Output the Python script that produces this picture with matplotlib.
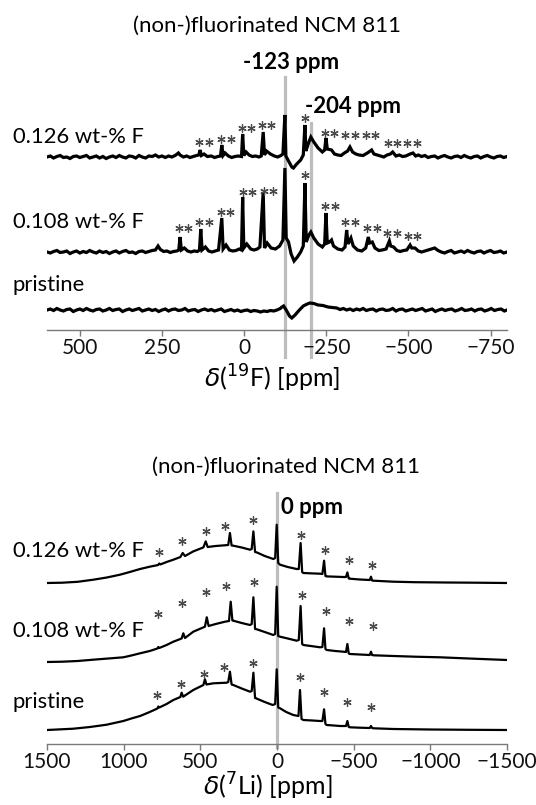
import numpy as np
import matplotlib
matplotlib.use("Agg")
import matplotlib.pyplot as plt
from matplotlib.transforms import ScaledTranslation

plt.rcParams['font.family'] = ['Lato', 'DejaVu Sans']
plt.rcParams['mathtext.fontset'] = 'dejavusans'

# ---------------- data: 19F spectra (ppm, height above own baseline) -------------
f_126 = [(600, 0), (590, 1), (580, -1), (570, 0.5), (560, 1.5), (550, -0.5), (540, 0),
         (530, -1.5), (520, 0.5), (510, 1), (500, -0.5), (490, 0.5), (480, 1.5), (470, -1),
         (460, 0), (450, 1), (440, -1), (430, 0.5), (420, -1.5), (410, 0), (400, 1),
         (390, -0.5), (380, 1.5), (370, 0), (360, -1), (350, 1), (340, 0.5), (330, -1),
         (320, 1.5), (310, 0), (300, -1), (290, 1), (280, 0.5), (270, 2), (260, 0), (250, 1),
         (240, -0.5), (230, 1), (220, 0), (210, 1.5), (200, 4), (195, 2), (185, 0), (175, 1),
         (165, -0.5), (155, 0.5), (145, 1.5), (138, 2), (134, 7), (130, 1.5), (122, 3),
         (112, 0.5), (100, 1), (90, -0.5), (80, 0.5), (72, 1), (68, 12), (64, 1.5), (58, 4),
         (48, 1), (38, -0.5), (28, 0.5), (18, 1), (8, 0.5), (4.5, 23), (1, 1.5), (-6, 5),
         (-15, 2), (-25, 0.5), (-35, 1), (-45, 0), (-52, 1), (-58, 25), (-62, 2), (-68, 6),
         (-80, 3), (-92, 1), (-102, 0), (-112, 1.5), (-118, 3), (-124, 42), (-127, 1),
         (-135, -4), (-145, -10), (-150, -11), (-160, -7), (-172, -3), (-180, 2), (-185, 32),
         (-188, 6), (-196, 14), (-203, 20), (-212, 15), (-225, 9), (-238, 5), (-245, 7),
         (-249, 19), (-253, 8), (-266, 7), (-275, 3), (-285, 2), (-295, 1.5), (-305, 4),
         (-315, 6), (-322, 10), (-330, 5), (-340, 3), (-350, 2), (-362, 1.5), (-375, 4),
         (-388, 7), (-395, 3), (-405, 2), (-415, 1), (-425, 0), (-435, 2), (-445, 3),
         (-452, 5), (-462, 1), (-472, 2), (-482, 0.5), (-492, 1), (-505, 3), (-514, 4),
         (-522, 1), (-530, 2), (-540, 0.5), (-550, 1.5), (-560, -0.5), (-570, 0.5),
         (-580, 1), (-590, -1), (-600, 0.5), (-610, 1.5), (-620, 0), (-630, -1), (-640, 0.5),
         (-650, 1), (-660, -0.5), (-670, 1.5), (-680, 0), (-690, -1), (-700, 0.5), (-710, 1),
         (-720, -1), (-730, 0.5), (-740, 1.5), (-750, 0), (-760, -1), (-770, 0.5), (-780, 1),
         (-790, -0.5), (-800, 0.5)]

f_108 = [(600, 0), (590, -1), (580, 0.5), (570, 1.5), (560, -0.5), (550, 0), (540, 1),
         (530, -1.5), (520, 0), (510, 1), (500, -1), (490, 0.5), (480, -0.5), (470, 1.5),
         (460, 0), (450, -1), (440, 1), (430, -0.5), (420, 0.5), (410, -1.5), (400, 0),
         (390, 1), (380, -1), (370, 0.5), (360, 1.5), (350, -0.5), (340, 0), (330, -1.5),
         (320, 0.5), (310, 1), (300, -0.5), (290, 0.5), (280, 1.5), (270, 2), (262, 6),
         (255, 2.5), (245, 0.5), (235, 1), (225, -0.5), (215, 0.5), (205, 1), (199, 2),
         (195, 15), (191, 2), (182, 4), (172, 1), (162, 0), (152, 1), (142, 0.5), (136, 2),
         (132, 23), (128, 2), (118, 5), (108, 1), (98, 0), (88, 1), (78, 2), (68, 34), (64, 3),
         (55, 7), (45, 2), (35, 1), (25, 1.5), (15, 3), (8, 2), (4.5, 55), (1, 4), (-8, 8),
         (-20, 3), (-30, 2), (-40, 3), (-48, 5), (-58, 60), (-62, 4), (-70, 9), (-82, 4),
         (-95, 3), (-108, 6), (-118, 12), (-124, 84), (-128, 14), (-135, 10), (-143, -2),
         (-152, -9), (-162, -5), (-172, 0), (-180, 6), (-185, 69), (-189, 10), (-197, 17),
         (-203, 20), (-212, 14), (-225, 8), (-238, 5), (-245, 8), (-249, 39), (-253, 9),
         (-260, 10), (-266, 12), (-272, 6), (-285, 3), (-298, 2), (-307, 5), (-312, 22),
         (-316, 8), (-325, 14), (-332, 6), (-345, 2), (-358, 1), (-370, 4), (-378, 15),
         (-382, 9), (-390, 10), (-398, 4), (-410, 1.5), (-420, 2), (-432, 3), (-442, 11),
         (-446, 6), (-455, 5), (-465, 1.5), (-475, 0.5), (-485, 1.5), (-495, 2), (-505, 7),
         (-510, 4), (-520, 4), (-530, 1), (-540, 0), (-550, 1), (-560, 2), (-570, 3),
         (-580, 4), (-590, 1.5), (-600, 0), (-610, -1), (-620, 0.5), (-630, 1.5), (-640, -1),
         (-650, 0), (-660, 1), (-670, -0.5), (-680, 1.5), (-690, 0), (-700, -1), (-710, 0.5),
         (-720, 1), (-730, -1), (-740, 0.5), (-750, 1.5), (-760, -0.5), (-770, 0), (-780, 1),
         (-790, -1), (-800, 0)]

f_pristine = [(600, 0), (590, 1), (580, -0.5), (570, 1.5), (560, 0), (550, -1), (540, 0.5),
              (530, 1), (520, -1.5), (510, 0), (500, 1), (490, -0.5), (480, 1.5), (470, 0),
              (460, -1), (450, 0.5), (440, 1), (430, -1), (420, 0), (410, 1.5), (400, -0.5),
              (390, 0.5), (380, 1), (370, -1.5), (360, 0), (350, 1), (340, -0.5), (330, 0.5),
              (320, 1.5), (310, -1), (300, 0), (290, 1), (280, -0.5), (270, 0.5), (260, -1.5),
              (250, 0), (240, 1), (230, -1), (220, 0.5), (210, 1), (200, -0.5), (190, 0),
              (180, 1.5), (170, -1), (160, 0), (150, 0.5), (140, -1.5), (130, 0), (120, 1),
              (110, -0.5), (100, 0.5), (90, -1), (80, 0), (70, 1), (60, -1.5), (50, -0.5),
              (40, 0.5), (30, -1), (20, 0), (10, -1.5), (0, -0.5), (-10, 0), (-20, -1.5),
              (-30, -0.5), (-40, -1), (-50, -2), (-60, -1), (-70, -1.5), (-80, -0.5), (-90, -1),
              (-100, 0), (-110, 1.5), (-115, 3), (-120, 4), (-128, 0), (-138, -6), (-145, -8),
              (-155, -5), (-168, 0), (-180, 4), (-192, 6), (-200, 7), (-212, 6.5), (-225, 5),
              (-240, 4.5), (-255, 3), (-270, 2.5), (-282, 2), (-292, 0.5), (-302, 1.5),
              (-312, 0), (-322, 1), (-332, -0.5), (-342, 1), (-352, 0), (-362, 1.5),
              (-372, -0.5), (-382, 0.5), (-392, 1), (-402, -1), (-412, 0.5), (-422, 1),
              (-432, -0.5), (-442, 0), (-452, 1.5), (-462, -1), (-472, 0.5), (-482, 1),
              (-492, -1), (-502, 0), (-512, 1), (-522, -0.5), (-532, 0.5), (-542, 1.5),
              (-552, -1), (-562, 0), (-572, 1), (-582, -1.5), (-592, 0), (-602, 1),
              (-612, -0.5), (-622, 0.5), (-632, 1), (-642, -1), (-652, 0), (-662, 1.5),
              (-672, -0.5), (-682, 0), (-692, 1), (-702, -1), (-712, 0.5), (-722, 1),
              (-732, -1), (-742, 0), (-752, 1.5), (-762, -0.5), (-772, 0.5), (-782, 1),
              (-792, -1), (-800, 0)]

# spinning sideband marks: (ppm, height above baseline, number of asterisks)
f_126_stars = [(122, 15, 2), (55, 18, 2), (-6, 29, 2), (-69, 32, 2), (-185, 39, 1),
               (-259, 24, 2), (-322, 22, 2), (-385, 22, 2), (-452, 14, 2), (-511, 14, 2)]
f_108_stars = [(185, 24, 2), (122, 30, 2), (56, 40, 2), (-11, 60, 2), (-75, 61, 2),
               (-185, 77, 1), (-261, 46, 2), (-322, 30, 2), (-389, 24, 2), (-450, 19, 2),
               (-513, 16, 2)]

# ---------------- data: 7Li spectra ----------------
li_126 = [(1500, 0), (1400, 0.3), (1300, 1.2), (1198, 3.3), (1110, 5.5), (1024, 8.3),
          (960, 11), (893, 14), (830, 16.3), (775, 18), (768, 19.5), (760, 18.6), (720, 21),
          (676, 23.3), (630, 26), (615, 30), (600, 27), (546, 31.6), (480, 35.6), (465, 41.6),
          (452, 36), (400, 37), (350, 37.6), (318, 38), (307, 50), (296, 37.5), (285, 37.3),
          (230, 35.5), (176, 33.3), (165, 34), (154, 51.6), (143, 31), (132, 30.6), (80, 27),
          (24, 24), (12, 25), (2, 58.3), (-8, 20), (-20, 18.3), (-70, 16), (-128, 14),
          (-142, 14), (-154, 40), (-164, 11), (-172, 10), (-230, 9.6), (-281, 9.3), (-296, 9),
          (-307, 22.3), (-316, 7), (-324, 6.6), (-380, 6.3), (-433, 6), (-450, 6),
          (-459, 10.6), (-468, 4.5), (-476, 4.3), (-540, 3.5), (-605, 3), (-613, 6.3),
          (-620, 2.5), (-630, 2.3), (-759, 1.3), (-900, 0.8), (-1100, 0.5), (-1300, 0.3),
          (-1500, 0)]

li_108 = [(1500, -1), (1400, -0.7), (1300, 0), (1200, 1.3), (1100, 2.5), (1002, 3.7),
          (950, 5.5), (893, 7.7), (830, 10), (780, 12.5), (774, 14), (768, 13), (720, 16),
          (676, 19.3), (622, 22.5), (611, 27.7), (600, 23), (546, 29.3), (470, 34.3),
          (458, 43.7), (446, 35), (400, 37), (339, 39.3), (313, 40), (302, 59.3), (291, 40.5),
          (285, 40.3), (230, 38), (176, 36), (165, 37), (154, 63.7), (143, 32), (132, 31.7),
          (80, 29), (24, 26), (12, 27), (2, 74.3), (-8, 25), (-20, 24.3), (-70, 22.5),
          (-128, 20.3), (-142, 21), (-154, 55), (-164, 17), (-172, 16), (-230, 14.8),
          (-281, 13.7), (-296, 14), (-307, 32.7), (-316, 12), (-324, 11), (-380, 10),
          (-433, 9.3), (-450, 9), (-459, 17), (-468, 7.5), (-476, 7), (-540, 6.5), (-605, 6),
          (-613, 9.3), (-620, 6), (-630, 5.7), (-759, 5), (-900, 4.3), (-1063, 3.7),
          (-1250, 2.5), (-1500, 1)]

li_pristine = [(1500, 0), (1420, 0.6), (1328, 1.3), (1220, 3), (1111, 5.3), (1002, 9),
               (950, 11.5), (893, 14), (830, 18), (780, 21.5), (774, 23.5), (768, 22.5),
               (720, 26), (676, 30), (630, 33), (622, 37.3), (612, 33.3), (546, 40), (480, 45),
               (470, 50.7), (460, 45.5), (415, 46.7), (370, 47), (328, 47.3), (318, 48),
               (307, 58.3), (296, 45.5), (285, 45), (230, 41.5), (176, 38.3), (165, 39),
               (154, 57.3), (143, 32), (137, 31.7), (80, 28), (28, 25), (12, 26), (2, 60.7),
               (-8, 22.5), (-20, 21.7), (-60, 18), (-106, 15), (-140, 14), (-150, 40),
               (-160, 11), (-172, 10), (-230, 9.5), (-281, 9), (-296, 9), (-307, 20.7),
               (-316, 6), (-324, 5), (-370, 4.5), (-411, 4), (-450, 4), (-459, 9), (-468, 3),
               (-476, 2.7), (-540, 2.3), (-605, 2), (-613, 4), (-620, 2), (-630, 1.7),
               (-759, 1), (-1000, 0.5), (-1250, 0.2), (-1500, 0)]

li_126_stars = [(770, 31), (622, 42), (465, 52), (337, 57), (154, 63), (-156, 48),
                (-313, 33), (-470, 23), (-622, 18)]
li_108_stars = [(774, 47), (618, 58), (465, 69), (333, 75), (150, 79), (-161, 66),
                (-318, 50), (-472, 40), (-624, 35)]
li_pristine_stars = [(781, 35), (628, 46), (474, 56), (343, 63), (158, 67), (-150, 53),
                     (-309, 38), (-459, 28), (-613, 23)]

sample_names = ['0.126 wt-% F', '0.108 wt-% F', 'pristine']
f_ticks = [500, 250, 0, -250, -500, -750]
li_ticks = [1500, 1000, 500, 0, -500, -1000, -1500]
f_marks = [-123, -204]
li_marks = [0]

# ---------------- layout ----------------
W, H = 536, 805
fig = plt.figure(figsize=(W / 100, H / 100), dpi=100)


def fx(px):
    return px / W


def fy(py):
    return 1 - py / H


ax1 = fig.add_axes([fx(47), fy(330), 460 / W, 270 / H])
ax2 = fig.add_axes([fx(47), fy(744), 460 / W, 264 / H])
ax1.set_xlim(600, -800)
ax1.set_ylim(0, 270)
ax2.set_xlim(1500, -1500)
ax2.set_ylim(0, 264)

for ax, ticks in ((ax1, f_ticks), (ax2, li_ticks)):
    for s in ('left', 'right', 'top'):
        ax.spines[s].set_visible(False)
    ax.spines['bottom'].set_color('#7a7a7a')
    ax.spines['bottom'].set_linewidth(1.0)
    ax.set_yticks([])
    ax.set_xticks(ticks)
    ax.tick_params(axis='x', length=4, width=1.0, color='#7a7a7a', labelsize=15,
                   pad=2, labelcolor='#111111')
    ax.patch.set_alpha(0)

# gray reference lines
gray = '#bdbdbd'
ax1.plot([f_marks[0]] * 2, [-27, 253], color=gray, lw=2.3, clip_on=False, zorder=1)
ax1.plot([f_marks[1]] * 2, [-27, 207], color=gray, lw=2.3, clip_on=False, zorder=1)
ax2.plot([li_marks[0]] * 2, [-3, 251], color=gray, lw=2.3, clip_on=False, zorder=1)

f_offsets = [173, 78, 20]
li_offsets = [161, 83, 14]

for spec, off in zip((f_126, f_108, f_pristine), f_offsets):
    a = np.array(spec, dtype=float)
    ax1.plot(a[:, 0], a[:, 1] + off, color='black', lw=2.3, solid_joinstyle='miter', zorder=3)

for spec, off in zip((li_126, li_108, li_pristine), li_offsets):
    a = np.array(spec, dtype=float)
    ax2.plot(a[:, 0], a[:, 1] + off, color='black', lw=1.6, zorder=3)


def draw_star(ax, x, y, dx_px=0.0):
    tr = ax.transData + ScaledTranslation(dx_px / 100, 0, fig.dpi_scale_trans)
    ax.plot([x], [y], marker=(6, 2, 0), ms=6, mew=0.9, color='#4a4a4a',
            transform=tr, clip_on=False, zorder=4)


for stars, off in zip((f_126_stars, f_108_stars), f_offsets[:2]):
    for x, h, n in stars:
        if n == 2:
            draw_star(ax1, x, h + off, -4.6)
            draw_star(ax1, x, h + off, 4.6)
        else:
            draw_star(ax1, x, h + off)

for stars, off in zip((li_126_stars, li_108_stars, li_pristine_stars), li_offsets):
    for x, h in stars:
        draw_star(ax2, x, h + off)

# texts
fig.text(fx(267), fy(26), '(non-)fluorinated NCM 811', ha='center', va='center', fontsize=16)
fig.text(fx(286), fy(467), '(non-)fluorinated NCM 811', ha='center', va='center', fontsize=16)

for name, py in zip(sample_names, (137, 222, 285)):
    fig.text(fx(13), fy(py), name, ha='left', va='center', fontsize=15.8)
for name, py in zip(sample_names, (551, 631, 702)):
    fig.text(fx(13), fy(py), name, ha='left', va='center', fontsize=15.8)

ax1.text(-142, 330 - 63, '-123 ppm', ha='center', va='center', fontsize=16, fontweight='bold')
ax1.text(-184, 330 - 107, '-204 ppm', ha='left', va='center', fontsize=16, fontweight='bold')
ax2.text(-25, 744 - 508, '0 ppm', ha='left', va='center', fontsize=16, fontweight='bold')

fig.text(fx(272), fy(378), r'$\delta$(${}^{19}$F) [ppm]', ha='center', va='center', fontsize=18)
fig.text(fx(268), fy(786), r'$\delta$(${}^{7}$Li) [ppm]', ha='center', va='center', fontsize=18)

fig.savefig('out.png', dpi=100)
